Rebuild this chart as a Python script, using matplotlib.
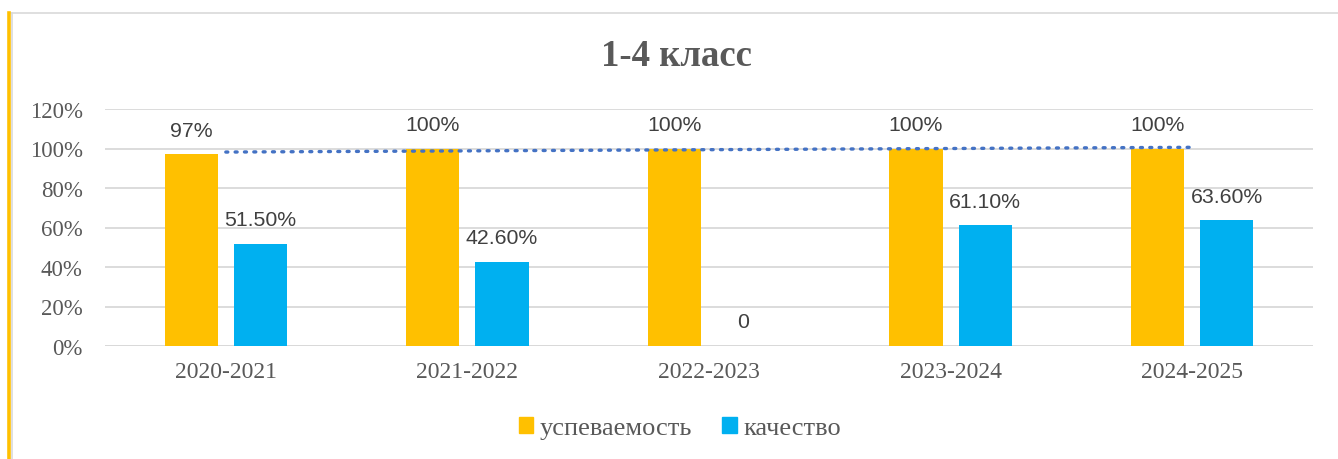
import matplotlib.pyplot as plt
import matplotlib.patches as patches
import matplotlib.lines as mlines
import numpy as np

years = ["2020-2021", "2021-2022", "2022-2023", "2023-2024", "2024-2025"]
uspev = [0.97, 1.00, 1.00, 1.00, 1.00]
kach = [0.515, 0.426, 0.0, 0.611, 0.636]
uspev_labels = ["97%", "100%", "100%", "100%", "100%"]
kach_labels = ["51.50%", "42.60%", "0", "61.10%", "63.60%"]

YELLOW = "#FFC000"
BLUE = "#00B0F0"
GRAY = "#595959"

fig = plt.figure(figsize=(13.38, 4.6), dpi=100)
ax = fig.add_axes([105 / 1338, 1 - 347 / 460, (1313 - 105) / 1338, (347 - 110) / 460])

x = np.arange(len(years))
w = 0.22
off = 0.143
ax.bar(x - off, uspev, w, color=YELLOW, zorder=2)
ax.bar(x + off, kach, w, color=BLUE, zorder=2)

# linear trend of успеваемость
k, b = np.polyfit(x, uspev, 1)
ax.plot(x, k * x + b, linestyle=(0, (0.6, 2.2)), color="#4472C4", lw=2.4,
        dash_capstyle="round", zorder=3)

for i in range(len(years)):
    ax.text(x[i] - off, uspev[i] + 0.075, uspev_labels[i], ha="center", va="bottom",
            fontsize=15.3, color="#404040", family="Liberation Sans")
    ax.text(x[i] + off, kach[i] + 0.075, kach_labels[i], ha="center", va="bottom",
            fontsize=15.3, color="#404040", family="Liberation Sans")

ax.set_xlim(-0.5, len(years) - 0.5)
ax.set_ylim(0, 1.2)
ax.set_yticks(np.arange(0, 1.21, 0.2))
ax.set_yticklabels([f"{int(round(v * 100))}%" for v in np.arange(0, 1.21, 0.2)])
ax.set_xticks(x)
ax.set_xticklabels(years)
for lab in ax.get_yticklabels():
    lab.set_family("Liberation Serif")
    lab.set_fontsize(16.5)
    lab.set_color(GRAY)
for lab in ax.get_xticklabels():
    lab.set_family("Liberation Serif")
    lab.set_fontsize(17)
    lab.set_color(GRAY)
ax.tick_params(length=0)
ax.tick_params(axis="y", pad=16)
ax.tick_params(axis="x", pad=11)
ax.grid(axis="y", color="#D9D9D9", lw=1.3, zorder=0)
for s in ax.spines.values():
    s.set_visible(False)
ax.axhline(0, color="#D9D9D9", lw=1.3, zorder=1)

fig.text(676 / 1338, 1 - 57 / 460, "1-4 класс", ha="center", va="center",
         fontsize=26.5, fontweight="bold", color=GRAY, family="Liberation Serif")

h1 = patches.Patch(color=YELLOW, label="успеваемость")
h2 = patches.Patch(color=BLUE, label="качество")
leg = fig.legend(handles=[h1, h2], loc="center", bbox_to_anchor=(680 / 1338, 1 - 429 / 460),
                 ncol=2, frameon=False, handlelength=0.55, handleheight=0.55,
                 handletextpad=0.25, columnspacing=1.15,
                 prop={"family": "Liberation Serif", "size": 19})
for t in leg.get_texts():
    t.set_color(GRAY)

# chart frame
fig.add_artist(mlines.Line2D([11 / 1338, 1], [1 - 14 / 460, 1 - 14 / 460],
                             color="#D9D9D9", lw=1.2))
fig.add_artist(mlines.Line2D([11.5 / 1338, 11.5 / 1338], [0, 1 - 14 / 460],
                             color="#D9D9D9", lw=1.2))
fig.add_artist(mlines.Line2D([8.7 / 1338, 8.7 / 1338], [0, 1 - 14 / 460],
                             color=YELLOW, lw=2.6))

fig.savefig("out.png", dpi=100)
